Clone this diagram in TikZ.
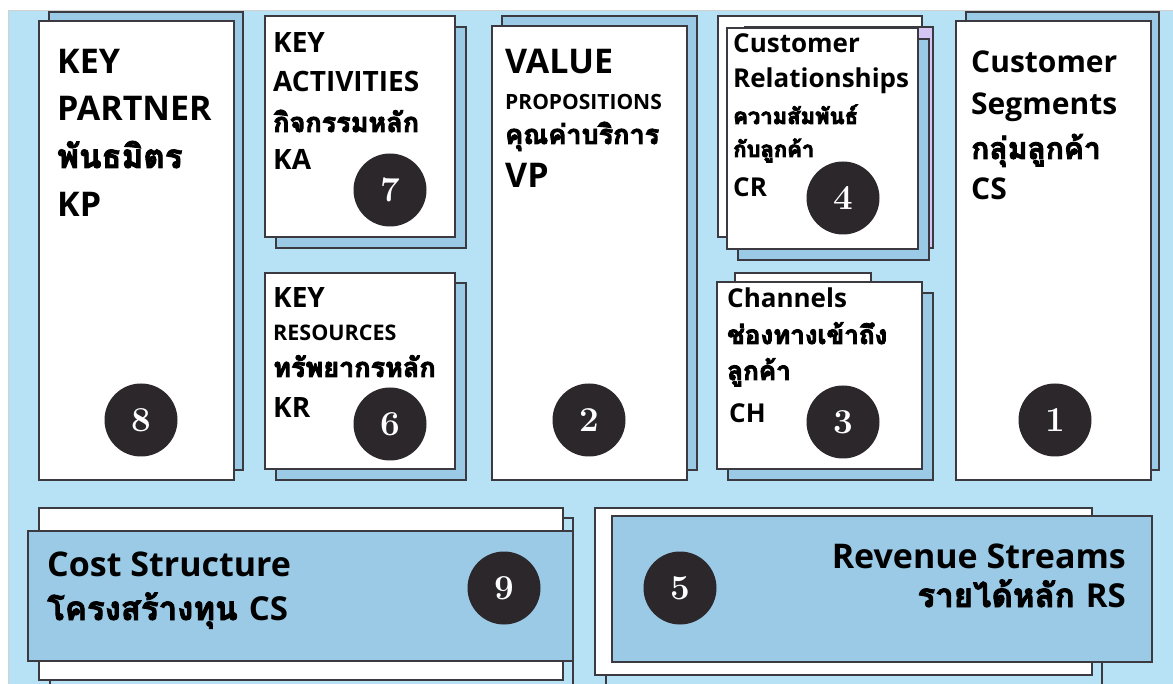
\documentclass[tikz,border=0pt]{standalone}
\usepackage{fontspec}
\newfontfamily\thaifam[Script=Thai]{Loma}
\IfFontExistsTF{Open Sans Bold}
  {\newfontfamily\latfam{Open Sans}[BoldFont={Open Sans Bold}]}
  {\newfontfamily\latfam{Noto Sans}}
% stroked text outlines give the Thai lines a heavier weight
\newcommand\heavyon{\special{pdf:literal direct 2 Tr 0.9 w}}
\newcommand\heavyoff{\special{pdf:literal direct 0 Tr}}
\definecolor{bgblue}{RGB}{183,226,246}
\definecolor{midblue}{RGB}{154,202,229}
\definecolor{edge}{RGB}{58,58,64}
\definecolor{lav}{RGB}{214,198,244}
\definecolor{dot}{RGB}{43,39,43}
\tikzset{
  card/.style={draw=edge, fill=white, line width=1.4pt},
  shade/.style={draw=edge, fill=midblue, line width=1.4pt},
  en/.style={anchor=base west, inner sep=0pt, font={\latfam\bfseries\fontsize{#1}{#1}\selectfont}},
  th/.style={anchor=base west, inner sep=0pt, font={\thaifam\bfseries\fontsize{#1}{#1}\selectfont}},
  num/.style={circle, fill=dot, text=white, inner sep=0pt, minimum size=73pt,
    font={\bfseries\fontsize{35}{35}\selectfont}},
}
\newcommand\thai[1]{\heavyon#1\heavyoff}
\begin{document}
\begin{tikzpicture}[x=1pt, y=-1pt]
\useasboundingbox (0,0) rectangle (1173,684);
\fill[white] (0,0) rectangle (1173,684);
\draw[draw=black!18, fill=bgblue, line width=1pt] (8,11) rectangle (1180,690);

% key partners
\draw[shade] (49,12) rectangle (243,470);
\draw[card] (39,21) rectangle (234,480);
\node[en=34] (kp1) at (57,74) {KEY};
\node[en=34] (kp2) at (57,121) {PARTNER};
\node[en=34] (kp4) at (57,217) {KP};
\node[num] (n8) at (141,420) {8};

% key activities
\draw[shade] (276,27) rectangle (466,248);
\draw[card] (265,16) rectangle (455,237);
\node[en=28] (ka1) at (273,53) {KEY};
\node[en=28] (ka2) at (273,92) {ACTIVITIES};
\node[en=28] (ka4) at (273,170) {KA};
\node[num] (n7) at (390,190) {7};

% key resources
\draw[shade] (276,283) rectangle (466,480);
\draw[card] (265,273) rectangle (455,469);
\node[en=28] (kr1) at (273,308) {KEY};
\node[en=21.5] (kr2) at (273,341) {RESOURCES};
\node[en=28] (kr4) at (273,418) {KR};
\node[num] (n6) at (390,424) {6};

% value propositions
\draw[shade] (502,16) rectangle (697,470);
\draw[card] (492,26) rectangle (687,480);
\node[en=34] (vp1) at (505,74) {VALUE};
\node[en=21] (vp2) at (505,110) {PROPOSITIONS};
\node[en=34] (vp4) at (505,188) {VP};
\node[num] (n2) at (589,420) {2};

% customer relationships
\draw[card] (718,16) rectangle (922,237);
\draw[draw=edge, fill=lav, line width=1.4pt] (745,27) rectangle (933,248);
\draw[shade] (738,39) rectangle (929,260);
\draw[card] (727,28) rectangle (918,249);
\node[en=26] (cr1) at (733,53) {Customer};
\node[en=26] (cr2) at (733,88) {Relationships};
\node[en=26] (cr5) at (733,197) {CR};
\node[num] (n4) at (843,198) {4};

% channels
\draw[card] (735,273) rectangle (871,300);
\draw[shade] (728,293) rectangle (933,480);
\draw[card] (717,282) rectangle (922,469);
\node[en=26] (ch1) at (727,308) {Channels};
\node[en=26] (ch4) at (729,423) {CH};
\node[num] (n3) at (843,422) {3};

% customer segments
\draw[shade] (966,12) rectangle (1159,470);
\draw[card] (956,21) rectangle (1151,480);
\node[en=30] (cs1) at (971,73) {Customer};
\node[en=30] (cs2) at (971,115) {Segments};
\node[en=30] (cs4) at (971,200) {CS};
\node[num] (n1) at (1055,420) {1};

% cost structure
\draw[draw=edge, fill=bgblue, line width=1.4pt] (50,518) rectangle (573,700);
\draw[card] (39,508) rectangle (563,680);
\draw[shade] (28,531) rectangle (573,661);
\node[en=34] (co1) at (47,576) {Cost Structure};
\node[num] (n9) at (504,588) {9};

% revenue streams
\draw[draw=edge, fill=bgblue, line width=1.4pt] (606,530) rectangle (1102,700);
\draw[card] (595,508) rectangle (1092,675);
\draw[shade] (612,516) rectangle (1152,662);
\node[en=34, anchor=base east] (rs1) at (1126,568) {Revenue Streams};
\node[num] (n5) at (680,588) {5};

% Thai lines, set last
\node[th=33] (kp3) at (57,168) {\thai{พันธมิตร}};
\node[th=27] (ka3) at (273,132) {\thai{กิจกรรมหลัก}};
\node[th=27] (kr3) at (273,377) {\thai{ทรัพยากรหลัก}};
\node[th=27] (vp3) at (505,144) {\thai{คุณค่าบริการ}};
\node[th=22] (cr3) at (733,124) {\thai{ความสัมพันธ์}};
\node[th=22] (cr4) at (733,157) {\thai{กับลูกค้า}};
\node[th=26] (ch2) at (727,344) {\thai{ช่องทางเข้าถึง}};
\node[th=26] (ch3) at (727,380) {\thai{ลูกค้า}};
\node[th=30] (cs3) at (971,159) {\thai{กลุ่มลูกค้า}};
\node[th=33] (co2) at (47,620) {\thai{โครงสร้างทุน} {\latfam\bfseries CS}};
\node[th=33, anchor=base east] (rs2) at (1126,607) {\thai{รายได้หลัก} {\latfam\bfseries RS}};
\end{tikzpicture}
\end{document}
